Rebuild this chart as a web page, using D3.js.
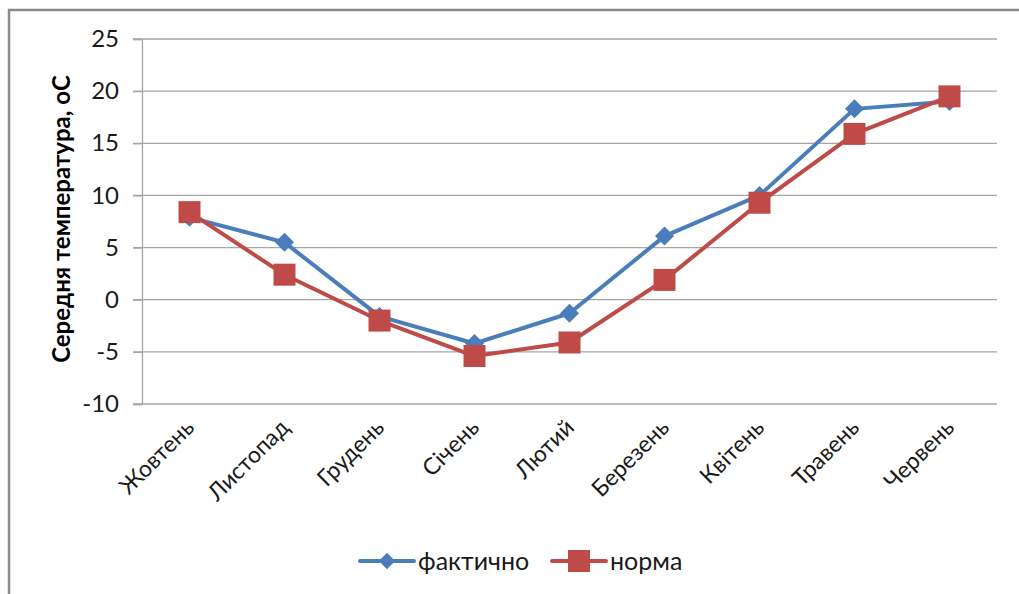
<!DOCTYPE html>
<html>
<head>
<meta charset="utf-8">
<script src="https://cdn.jsdelivr.net/npm/d3@7"></script>
<style>
  html, body { margin: 0; padding: 0; background: #fff; }
  svg { display: block; font-family: Lato, "Open Sans", "Liberation Sans", sans-serif; }
</style>
</head>
<body>
<svg id="chart" width="1019" height="594"></svg>
<script>
// Monthly mean air temperature, October–June
const months = ["Жовтень", "Листопад", "Грудень", "Січень", "Лютий", "Березень", "Квітень", "Травень", "Червень"];
const actual = [7.9, 5.5, -1.6, -4.2, -1.3, 6.1, 10.0, 18.3, 19.0];
const normal = [8.4, 2.4, -2.0, -5.4, -4.1, 1.9, 9.3, 15.9, 19.5];
const yTicks = [-10, -5, 0, 5, 10, 15, 20, 25];
const seriesNames = ["фактично", "норма"];

const blue = "#4A7EBB";
const red = "#BE4B48";

const svg = d3.select("#chart");

// outer chart frame (top and left edges)
svg.append("path")
  .attr("d", "M9,594 V10 H1019")
  .attr("fill", "none")
  .attr("stroke", "#8a8a8a")
  .attr("stroke-width", 2.5);

const x = d3.scalePoint().domain(months).range([142, 997]).padding(0.5);
const y = d3.scaleLinear().domain([-10, 25]).range([404, 39]);

// horizontal gridlines
svg.append("g")
  .selectAll("line")
  .data(yTicks)
  .join("line")
  .attr("x1", 133).attr("x2", 997)
  .attr("y1", d => y(d)).attr("y2", d => y(d))
  .attr("stroke", "#a6a6a6")
  .attr("stroke-width", 1.3);

// y axis
const yAxis = svg.append("g")
  .attr("transform", "translate(142,0)")
  .call(d3.axisLeft(y).tickValues(yTicks).tickSize(9).tickPadding(14).tickFormat(d => String(d)));
yAxis.select(".domain").attr("stroke", "#a6a6a6").attr("stroke-width", 1.3);
yAxis.selectAll(".tick line").attr("stroke", "#a6a6a6").attr("stroke-width", 1.3);
yAxis.selectAll(".tick text")
  .attr("font-size", 24)
  .attr("fill", "#1a1a1a")
  .attr("font-family", "Lato, 'Open Sans', sans-serif");

// x category labels, rotated
svg.append("g")
  .selectAll("text")
  .data(months)
  .join("text")
  .attr("transform", d => `translate(${x(d) + 6},${429}) rotate(-45)`)
  .attr("text-anchor", "end")
  .attr("font-size", 23)
  .attr("fill", "#1a1a1a")
  .text(d => d);

// y axis title
svg.append("text")
  .attr("transform", "translate(70,219) rotate(-90)")
  .attr("text-anchor", "middle")
  .attr("font-size", 24)
  .attr("font-weight", "bold")
  .attr("fill", "#000")
  .text("Середня температура, оС");

const line = d3.line()
  .x((d, i) => x(months[i]))
  .y(d => y(d));

function drawSeries(values, color, shape) {
  svg.append("path")
    .datum(values)
    .attr("fill", "none")
    .attr("stroke", color)
    .attr("stroke-width", 4)
    .attr("stroke-linejoin", "round")
    .attr("d", line);
  svg.append("g")
    .selectAll("path")
    .data(values)
    .join("path")
    .attr("transform", (d, i) => `translate(${x(months[i])},${y(d)})`)
    .attr("d", shape)
    .attr("fill", color);
}

const diamond = d3.symbol().type(d3.symbolDiamond2).size(230)();
const square = "M-11,-11H11V11H-11Z";

drawSeries(actual, blue, diamond);
drawSeries(normal, red, square);

// legend
const legend = svg.append("g");
const items = [
  { name: seriesNames[0], color: blue, shape: d3.symbol().type(d3.symbolDiamond2).size(170)(), x0: 360 },
  { name: seriesNames[1], color: red, shape: square, x0: 552 }
];
items.forEach(it => {
  const g = legend.append("g").attr("transform", `translate(${it.x0},561)`);
  g.append("line").attr("x1", 0).attr("x2", 54).attr("y1", 0).attr("y2", 0)
    .attr("stroke", it.color).attr("stroke-width", 4).attr("stroke-linecap", "round");
  g.append("path").attr("transform", "translate(27,0)")
    .attr("d", it.shape)
    .attr("fill", it.color);
  g.append("text").attr("x", 58).attr("y", 9)
    .attr("font-size", 25).attr("fill", "#1a1a1a")
    .text(it.name);
});
</script>
</body>
</html>
